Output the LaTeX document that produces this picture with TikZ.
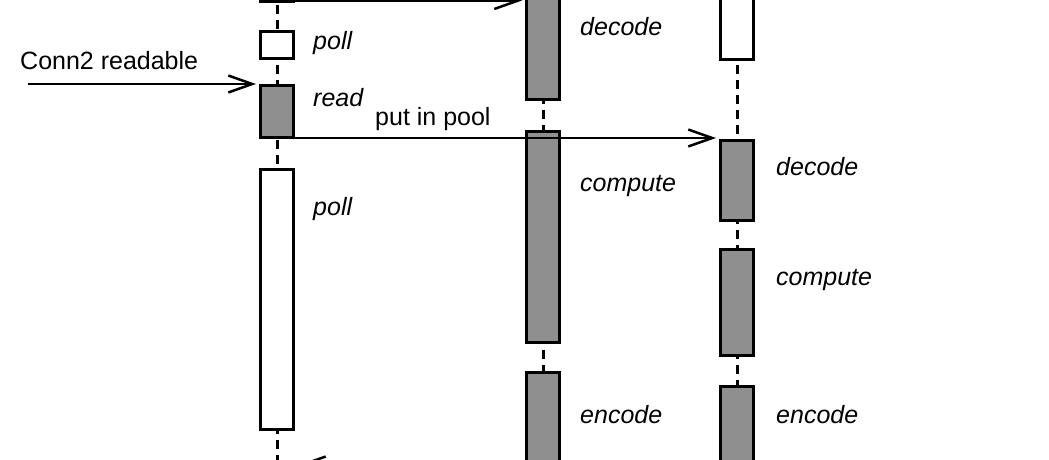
\documentclass[tikz,border=0pt]{standalone}
\usepackage{fontspec}
\setmainfont{Liberation Sans}
\usetikzlibrary{arrows.meta,shadows}
\definecolor{busygray}{HTML}{8F8F8F}
\tikzset{
  act/.style={draw,line width=3.4pt,minimum width=32.6pt,inner sep=0pt,
    drop shadow={shadow xshift=1pt,shadow yshift=-2pt,opacity=.3}},
  busy/.style={act,fill=busygray},
  idle/.style={act,fill=white},
  life/.style={line width=3pt,dash pattern=on 9pt off 6pt},
  msg/.style={line width=2.5pt,shorten >=3pt,-{Straight Barb[length=24pt,width=17pt]}},
  lbl/.style={font=\fontsize{25}{30}\selectfont\itshape,anchor=base west,inner sep=0pt},
  txt/.style={anchor=base west,inner sep=0pt}
}
\begin{document}
\begin{tikzpicture}[x=1pt,y=-1pt,font=\fontsize{25}{30}\selectfont]
\useasboundingbox (0,0) rectangle (1049,460);
\clip (0,0) rectangle (1049,460);
% lifelines
\draw[life] (277,-10) -- (277,470);
\draw[life] (543,-10) -- (543,470);
\draw[life] (737,-10) -- (737,470);
%
% first thread
\node[busy,minimum height=39.6] (topA) at (277,-18.5) {};
\node[idle,minimum height=26.6] (pollA) at (277,45) {};
\node[busy,minimum height=51.6] (readA) at (277,111.5) {};
\node[idle,minimum height=259.6] (waitA) at (277,299.5) {};
% second thread
\node[busy,minimum height=137.6] (topB) at (543,30.5) {};
\node[busy,minimum height=210.6] (computeB) at (543,237) {};
\node[busy,minimum height=145.6] (encodeB) at (543,445.5) {};
% third thread
\node[idle,minimum height=97.6] (topC) at (737,10.5) {};
\node[busy,minimum height=79.6] (decodeC) at (737,180.5) {};
\node[busy,minimum height=105.6] (computeC) at (737,302.5) {};
\node[busy,minimum height=131.6] (encodeC) at (737,452.5) {};
%
% messages
\coordinate (conn2) at (28,84);
\draw[msg] (topA.east |- 0,0.5) -- (topB.west |- 0,0.5);
\draw[msg] (conn2) -- (readA.north west);
\draw[msg] (readA.east |- 0,138) -- (decodeC.west |- 0,138);
\draw[msg] (encodeB.west |- 0,465) -- (waitA.east |- 0,465);
%
% labels
\node[txt] (conn2lbl) at (20,70) {Conn2 readable};
\node[lbl] (pollAlbl) at (313,50) {poll};
\node[lbl] (readAlbl) at (313,106) {read};
\node[txt] (poollbl) at (375,125) {put in pool};
\node[lbl] (waitAlbl) at (313,215) {poll};
\node[lbl] (decodeBlbl) at (580,36) {decode};
\node[lbl] (computeBlbl) at (580,191) {compute};
\node[lbl] (encodeBlbl) at (580,423) {encode};
\node[lbl] (decodeClbl) at (776,175) {decode};
\node[lbl] (computeClbl) at (776,285) {compute};
\node[lbl] (encodeClbl) at (776,423) {encode};
\end{tikzpicture}
\end{document}
